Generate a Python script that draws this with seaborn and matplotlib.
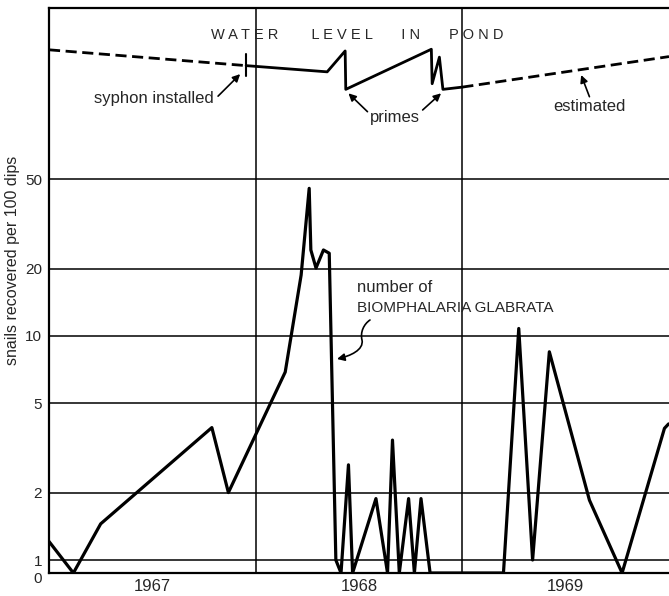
import numpy as np
import matplotlib
matplotlib.use("Agg")
import matplotlib.pyplot as plt
import matplotlib.transforms as mtransforms
from matplotlib.path import Path
from matplotlib.patches import FancyArrowPatch
import seaborn as sns

# snail counts (fractional year, snails per 100 dips)
dates = [1967.000, 1967.118, 1967.250, 1967.788, 1967.868, 1968.143, 1968.220,
         1968.259, 1968.267, 1968.292, 1968.328, 1968.356, 1968.388, 1968.413,
         1968.449, 1968.469, 1968.582, 1968.638, 1968.662, 1968.695, 1968.740,
         1968.768, 1968.800, 1968.844, 1969.199, 1969.273, 1969.340, 1969.421,
         1969.615, 1969.773, 1969.978, 1969.998]
snails = [1.21, 0, 1.45, 3.9, 2.0, 6.9, 18.7,
          45.6, 24.2, 20.1, 24.2, 23.4, 1.0, 0,
          2.66, 0, 1.88, 0, 3.43, 0, 1.88,
          0, 1.88, 0, 0, 10.8, 1.0, 8.5,
          1.85, 0, 3.87, 4.05]

# water level sketch (year, relative height in the top band)
level_before_x = [1967.000, 1967.954]
level_before_y = [0.926, 0.898]
level_x = [1967.954, 1968.346, 1968.433, 1968.436, 1968.850, 1968.854,
           1968.889, 1968.906, 1969.000]
level_y = [0.898, 0.887, 0.924, 0.856, 0.927, 0.866, 0.913, 0.856, 0.860]
level_after_x = [1969.000, 1970.000]
level_after_y = [0.860, 0.914]
syphon_year = 1967.954

yticks = [0, 1, 2, 5, 10, 20, 50]
year_labels = ["1967", "1968", "1969"]

K = 0.058


def fwd(y):
    y = np.asarray(y, dtype=float)
    return np.where(y >= 1, np.log10(np.maximum(y, 1e-9)), (y - 1) * K)


def inv(v):
    v = np.asarray(v, dtype=float)
    return np.where(v >= 0, 10 ** v, v / K + 1)


sns.set_style("white")
plt.rcParams['font.family'] = ['Liberation Sans', 'DejaVu Sans']

fig = plt.figure(figsize=(6.69, 5.96), dpi=100)
ax = fig.add_axes([49 / 669, 23 / 596, 620 / 669, 565 / 596])

sns.lineplot(x=dates, y=snails, color="black", lw=2.3, ax=ax)
ax.set_yscale("function", functions=(fwd, inv))
ax.set_ylim(0, 291)
ax.set_xlim(1967, 1970)

ax.set_yticks(yticks)
ax.set_yticklabels([str(t) for t in yticks], fontsize=11)
ax.set_xticks([1967.5, 1968.5, 1969.5])
ax.set_xticklabels(year_labels, fontsize=12)
ax.tick_params(length=0, pad=4)
ax.tick_params(axis="y", pad=5)
# push the "0" label down a little so it clears the "1"
zero_label = ax.yaxis.get_major_ticks()[0].label1
zero_label.set_transform(zero_label.get_transform()
                         + mtransforms.ScaledTranslation(0, -3 / 72, fig.dpi_scale_trans))

for t in yticks[1:]:
    ax.axhline(t, color="black", lw=1.1, zorder=1)
for yr in [1968, 1969]:
    ax.axvline(yr, color="black", lw=1.1, zorder=1)

for side in ["left", "top", "bottom"]:
    ax.spines[side].set_color("black")
    ax.spines[side].set_linewidth(1.6)
ax.spines["right"].set_visible(False)

ax.set_ylabel("snails recovered per 100 dips", fontsize=11.5)
ax.yaxis.set_label_coords(-0.046, 0.554)

# water level band
tr = ax.get_xaxis_transform()
ax.plot(level_before_x, level_before_y, color="black", lw=2, ls=(0, (4, 2)), transform=tr)
ax.plot(level_x, level_y, color="black", lw=2, transform=tr)
ax.plot(level_after_x, level_after_y, color="black", lw=2, ls=(0, (4, 2)), transform=tr)
ax.plot([syphon_year, syphon_year], [0.8796, 0.9186], color="black", lw=1.5, transform=tr)

ax.text(1968.49, 0.952, "W A T E R        L E V E L       I N       P O N D",
        ha="center", va="center", fontsize=10.5, transform=tr)

arrow = dict(arrowstyle="-|>", color="black", lw=1.2, mutation_scale=11,
             shrinkA=0, shrinkB=0)
ax.text(1967.508, 0.8407, "syphon installed", ha="center", va="center",
        fontsize=12, transform=tr)
ax.annotate("", xy=(1967.925, 0.883), xycoords=tr, xytext=(1967.818, 0.844),
            textcoords=tr, arrowprops=arrow)
ax.text(1968.676, 0.807, "primes", ha="center", va="center", fontsize=12, transform=tr)
ax.annotate("", xy=(1968.449, 0.849), xycoords=tr, xytext=(1968.541, 0.8165),
            textcoords=tr, arrowprops=arrow)
ax.annotate("", xy=(1968.897, 0.849), xycoords=tr, xytext=(1968.808, 0.8195),
            textcoords=tr, arrowprops=arrow)
ax.text(1969.615, 0.8248, "estimated", ha="center", va="center", fontsize=12, transform=tr)
ax.annotate("", xy=(1969.575, 0.8814), xycoords=tr, xytext=(1969.615, 0.843),
            textcoords=tr, arrowprops=arrow)

ax.text(1968.492, 16.5, "number of", ha="left", va="center", fontsize=12)
ax.text(1968.492, 13.3, "BIOMPHALARIA GLABRATA", ha="left", va="center", fontsize=11)


def px(x, y):
    return ((x - 49) / 620, (573 - y) / 565)


verts = [px(370, 320), px(364, 324), px(360, 332), px(362, 340),
         px(364, 350), px(350, 356), px(337, 359)]
codes = [Path.MOVETO, Path.CURVE4, Path.CURVE4, Path.CURVE4,
         Path.CURVE4, Path.CURVE4, Path.CURVE4]
curl = FancyArrowPatch(path=Path(verts, codes), arrowstyle="-|>", color="black",
                       lw=1.2, mutation_scale=11, transform=ax.transAxes)
ax.add_patch(curl)

fig.savefig("out.png", dpi=100)
